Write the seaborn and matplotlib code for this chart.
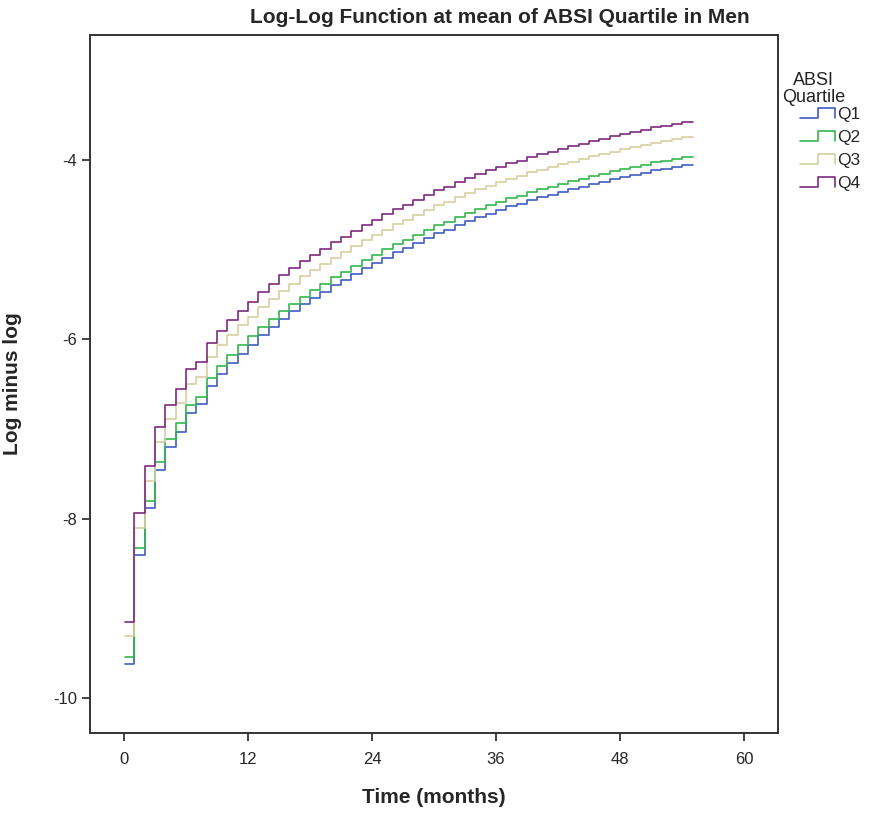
import numpy as np
import pandas as pd
import matplotlib
matplotlib.use("Agg")
import matplotlib.pyplot as plt
import seaborn as sns
from matplotlib.lines import Line2D
from matplotlib.legend_handler import HandlerLine2D

# step times (months); last entry just closes the final step
times = [0.1] + list(range(1, 55)) + [55.1]

q1 = [-9.62, -8.41, -7.88, -7.46, -7.20, -7.03, -6.82, -6.72, -6.52, -6.39,
      -6.27, -6.16, -6.06, -5.95, -5.86, -5.77, -5.69, -5.61, -5.54, -5.47,
      -5.40, -5.34, -5.27, -5.21, -5.15, -5.09, -5.03, -4.98, -4.93, -4.87,
      -4.82, -4.78, -4.73, -4.68, -4.64, -4.60, -4.56, -4.52, -4.49, -4.45,
      -4.42, -4.39, -4.36, -4.33, -4.30, -4.27, -4.25, -4.22, -4.19, -4.17,
      -4.15, -4.12, -4.10, -4.08, -4.06]
q2 = [-9.54, -8.33, -7.80, -7.37, -7.11, -6.94, -6.73, -6.64, -6.43, -6.30,
      -6.18, -6.07, -5.97, -5.87, -5.78, -5.69, -5.61, -5.53, -5.45, -5.38,
      -5.31, -5.25, -5.18, -5.12, -5.06, -5.00, -4.94, -4.89, -4.84, -4.78,
      -4.73, -4.69, -4.64, -4.59, -4.55, -4.51, -4.47, -4.43, -4.40, -4.36,
      -4.33, -4.30, -4.27, -4.24, -4.21, -4.18, -4.16, -4.13, -4.10, -4.08,
      -4.06, -4.03, -4.01, -3.99, -3.97]
q3 = [-9.31, -8.11, -7.58, -7.15, -6.89, -6.71, -6.50, -6.42, -6.20, -6.07,
      -5.95, -5.84, -5.75, -5.64, -5.55, -5.46, -5.38, -5.30, -5.23, -5.16,
      -5.09, -5.03, -4.96, -4.90, -4.84, -4.78, -4.72, -4.67, -4.62, -4.56,
      -4.51, -4.47, -4.42, -4.37, -4.33, -4.29, -4.25, -4.21, -4.18, -4.14,
      -4.11, -4.08, -4.05, -4.02, -3.99, -3.96, -3.94, -3.91, -3.88, -3.86,
      -3.84, -3.81, -3.79, -3.77, -3.75]
q4 = [-9.15, -7.94, -7.41, -6.98, -6.73, -6.56, -6.33, -6.25, -6.04, -5.91,
      -5.79, -5.69, -5.59, -5.47, -5.38, -5.29, -5.21, -5.13, -5.06, -4.99,
      -4.92, -4.86, -4.79, -4.73, -4.67, -4.61, -4.55, -4.50, -4.45, -4.39,
      -4.34, -4.30, -4.25, -4.20, -4.16, -4.12, -4.08, -4.04, -4.01, -3.97,
      -3.94, -3.91, -3.88, -3.85, -3.82, -3.79, -3.77, -3.74, -3.71, -3.69,
      -3.67, -3.64, -3.62, -3.60, -3.58]

groups = ["Q1", "Q2", "Q3", "Q4"]
colors = {"Q1": "#3F5DC4", "Q2": "#32B84C", "Q3": "#D6D0A0", "Q4": "#7D2A80"}

# long table, repeat last value so the final step is drawn
rows = []
for g, vals in zip(groups, [q1, q2, q3, q4]):
    vals = vals + [vals[-1]]
    for t, v in zip(times, vals):
        rows.append({"time": t, "lml": v, "group": g})
df = pd.DataFrame(rows)

sns.set_style("ticks")
plt.rcParams["font.family"] = ["Liberation Sans", "DejaVu Sans"]
plt.rcParams["axes.unicode_minus"] = False

fig = plt.figure(figsize=(8.72, 8.18), dpi=100)
ax = fig.add_axes([0.1032, 0.1039, 0.7890, 0.8533])

sns.lineplot(data=df, x="time", y="lml", hue="group", palette=colors,
             drawstyle="steps-post", linewidth=1.2, legend=False,
             estimator=None, sort=False, ax=ax)

ax.set_xlim(-3.3, 63.3)
ax.set_ylim(-10.39, -2.61)
ax.set_xticks([0, 12, 24, 36, 48, 60])
ax.set_yticks([-10, -8, -6, -4])
ax.tick_params(axis="both", labelsize=12, length=6, width=1.2, color="#222222")
ax.tick_params(axis="x", pad=8)
for s in ax.spines.values():
    s.set_linewidth(1.4)
    s.set_color("#333333")

ax.set_xlabel("Time (months)", fontsize=15, fontweight="bold", labelpad=15)
ax.set_ylabel("Log minus log", fontsize=15, fontweight="bold", labelpad=22)
fig.text(0.573, 0.979, "Log-Log Function at mean of ABSI Quartile in Men",
         ha="center", va="center", fontsize=15, fontweight="bold")

# legend title drawn separately so its gap to the entries can be tuned
fig.text(0.933, 0.891, "ABSI\nQuartile", ha="center", va="center",
         multialignment="center", fontsize=13, color="#222222", linespacing=1.05)


class HandlerStep(HandlerLine2D):
    def create_artists(self, legend, orig_handle, xdescent, ydescent,
                       width, height, fontsize, trans):
        x0, x1 = -xdescent, -xdescent + width
        xm = x0 + width * 0.5
        y0 = -ydescent + height * 0.1
        y1 = -ydescent + height * 0.9
        ln = Line2D([x0, xm, xm, x1, x1], [y0, y0, y1, y1, y0],
                    color=orig_handle.get_color(), linewidth=1.2)
        ln.set_transform(trans)
        return [ln]


handles = [Line2D([], [], color=colors[g]) for g in groups]
leg = fig.legend(handles, groups, loc="upper left", bbox_to_anchor=(0.900, 0.888),
                 frameon=False, fontsize=12.5, handlelength=2.0, handletextpad=0.1,
                 labelspacing=0.45, handler_map={Line2D: HandlerStep()})

fig.savefig("out.png", dpi=100)
